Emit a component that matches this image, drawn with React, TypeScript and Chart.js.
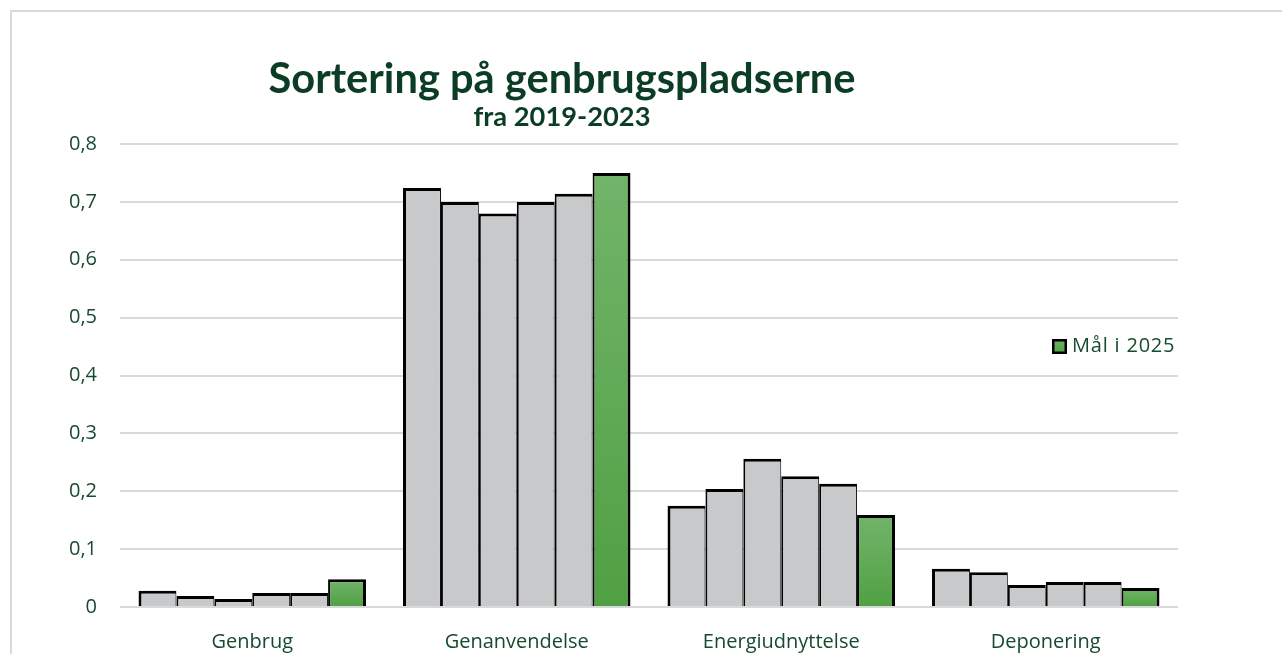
import React, { useEffect, useRef } from "react";
import { Chart, registerables } from "chart.js";

Chart.register(...registerables);

const categories = ["Genbrug", "Genanvendelse", "Energiudnyttelse", "Deponering"];
const seriesLabels = ["2019", "2020", "2021", "2022", "2023", "Mål i 2025"];
const v2019 = [0.028, 0.724, 0.175, 0.066];
const v2020 = [0.019, 0.7, 0.204, 0.06];
const v2021 = [0.014, 0.68, 0.256, 0.038];
const v2022 = [0.024, 0.7, 0.226, 0.043];
const v2023 = [0.024, 0.714, 0.213, 0.043];
const vGoal = [0.048, 0.75, 0.159, 0.033];
const yTicks = [0, 0.1, 0.2, 0.3, 0.4, 0.5, 0.6, 0.7, 0.8];

const TITLE = "Sortering på genbrugspladserne";
const SUBTITLE = "fra 2019-2023";
const GREEN_TEXT = "#0B3D24";
const TICK_TEXT = "#174A2E";
const GREY = "#C8C9CB";

function fitFont(ctx: CanvasRenderingContext2D, text: string, width: number, family: string, weight: string) {
  let size = 30;
  ctx.font = `${weight} ${size}px ${family}`;
  const w = ctx.measureText(text).width;
  size = (size * width) / w;
  return `${weight} ${size}px ${family}`;
}

const decorPlugin = {
  id: "decor",
  beforeDraw(chart: any) {
    const ctx = chart.ctx;
    ctx.save();
    ctx.strokeStyle = "#D9D9D9";
    ctx.lineWidth = 2;
    ctx.strokeRect(11, 11, 1400, 900);
    ctx.restore();
  },
  afterDraw(chart: any) {
    const ctx = chart.ctx;
    ctx.save();
    ctx.fillStyle = GREEN_TEXT;
    ctx.textAlign = "center";
    ctx.textBaseline = "alphabetic";
    ctx.font = fitFont(ctx, TITLE, 587, "Lato", "bold");
    ctx.fillText(TITLE, 562, 93);
    ctx.font = fitFont(ctx, SUBTITLE, 177, "Lato", "bold");
    ctx.fillText(SUBTITLE, 562, 126);

    // legend for the goal series
    const ds = chart.data.datasets[5];
    const bx = 1052, by = 339, bs = 15;
    const g = ctx.createLinearGradient(0, by, 0, by + bs);
    g.addColorStop(0, "#70B366");
    g.addColorStop(1, "#52A045");
    ctx.fillStyle = g;
    ctx.fillRect(bx, by, bs, bs);
    ctx.strokeStyle = "#000";
    ctx.lineWidth = 2.5;
    ctx.strokeRect(bx + 1.25, by + 1.25, bs - 2.5, bs - 2.5);
    ctx.fillStyle = TICK_TEXT;
    ctx.textAlign = "left";
    ctx.textBaseline = "middle";
    ctx.font = "20px 'Open Sans'";
    try {
      (ctx as any).letterSpacing = "0.8px";
    } catch (e) {}
    ctx.fillText(ds.label, 1072, 346);
    ctx.restore();
  },
};

function goalFill(context: any) {
  const chart = context.chart;
  if (!chart.chartArea || !chart.scales || !chart.scales.y) return "#60A855";
  const y = chart.scales.y;
  const top = y.getPixelForValue(context.raw);
  const base = y.getPixelForValue(0);
  if (!isFinite(top) || !isFinite(base) || top === base) return "#60A855";
  const g = chart.ctx.createLinearGradient(0, top, 0, base);
  g.addColorStop(0, "#72B46A");
  g.addColorStop(1, "#50A043");
  return g;
}

export default function App() {
  const ref = useRef<HTMLCanvasElement>(null);
  useEffect(() => {
    if (!ref.current) return;
    const all = [v2019, v2020, v2021, v2022, v2023, vGoal];
    const datasets = all.map((vals, i) => {
      const left = i === 0 ? 3 : 2;
      const right = i === all.length - 1 ? 3 : 1;
      return {
        label: seriesLabels[i],
        data: vals,
        backgroundColor: i === 5 ? goalFill : GREY,
        borderColor: "#000000",
        borderWidth: { top: 3, left, right, bottom: 0 },
        borderSkipped: "start" as const,
        categoryPercentage: 0.86,
        barPercentage: 1.0,
      };
    });
    const chart = new Chart(ref.current, {
      type: "bar",
      data: { labels: categories, datasets: datasets as any },
      options: {
        animation: false,
        responsive: false,
        maintainAspectRatio: false,
        layout: { padding: { left: 0, right: 104, top: 144, bottom: 0 } },
        plugins: {
          legend: { display: false },
          title: { display: false },
          tooltip: { enabled: false },
        },
        scales: {
          x: {
            grid: { display: false },
            border: { display: false },
            ticks: {
              color: TICK_TEXT,
              font: { family: "'Open Sans'", size: 20 },
              padding: 15,
            },
            afterFit: (s: any) => {
              s.height = 47;
            },
          },
          y: {
            min: 0,
            max: 0.8,
            afterBuildTicks: (s: any) => {
              s.ticks = yTicks.map((v) => ({ value: v }));
            },
            grid: { color: "#D9D9D9", lineWidth: 2, drawTicks: false },
            border: { display: false },
            ticks: {
              color: TICK_TEXT,
              font: { family: "'Open Sans'", size: 20 },
              padding: 23,
              callback: (v: any) => (Number(v) === 0 ? "0" : Number(v).toFixed(1).replace(".", ",")),
            },
            afterFit: (s: any) => {
              s.width = 120;
            },
          },
        },
      },
      plugins: [decorPlugin],
    });
    return () => chart.destroy();
  }, []);
  return (
    <div style={{ position: "absolute", left: 0, top: 0, width: 1282, height: 654, background: "#fff" }}>
      <canvas ref={ref} width={1282} height={654} style={{ display: "block" }} />
    </div>
  );
}
